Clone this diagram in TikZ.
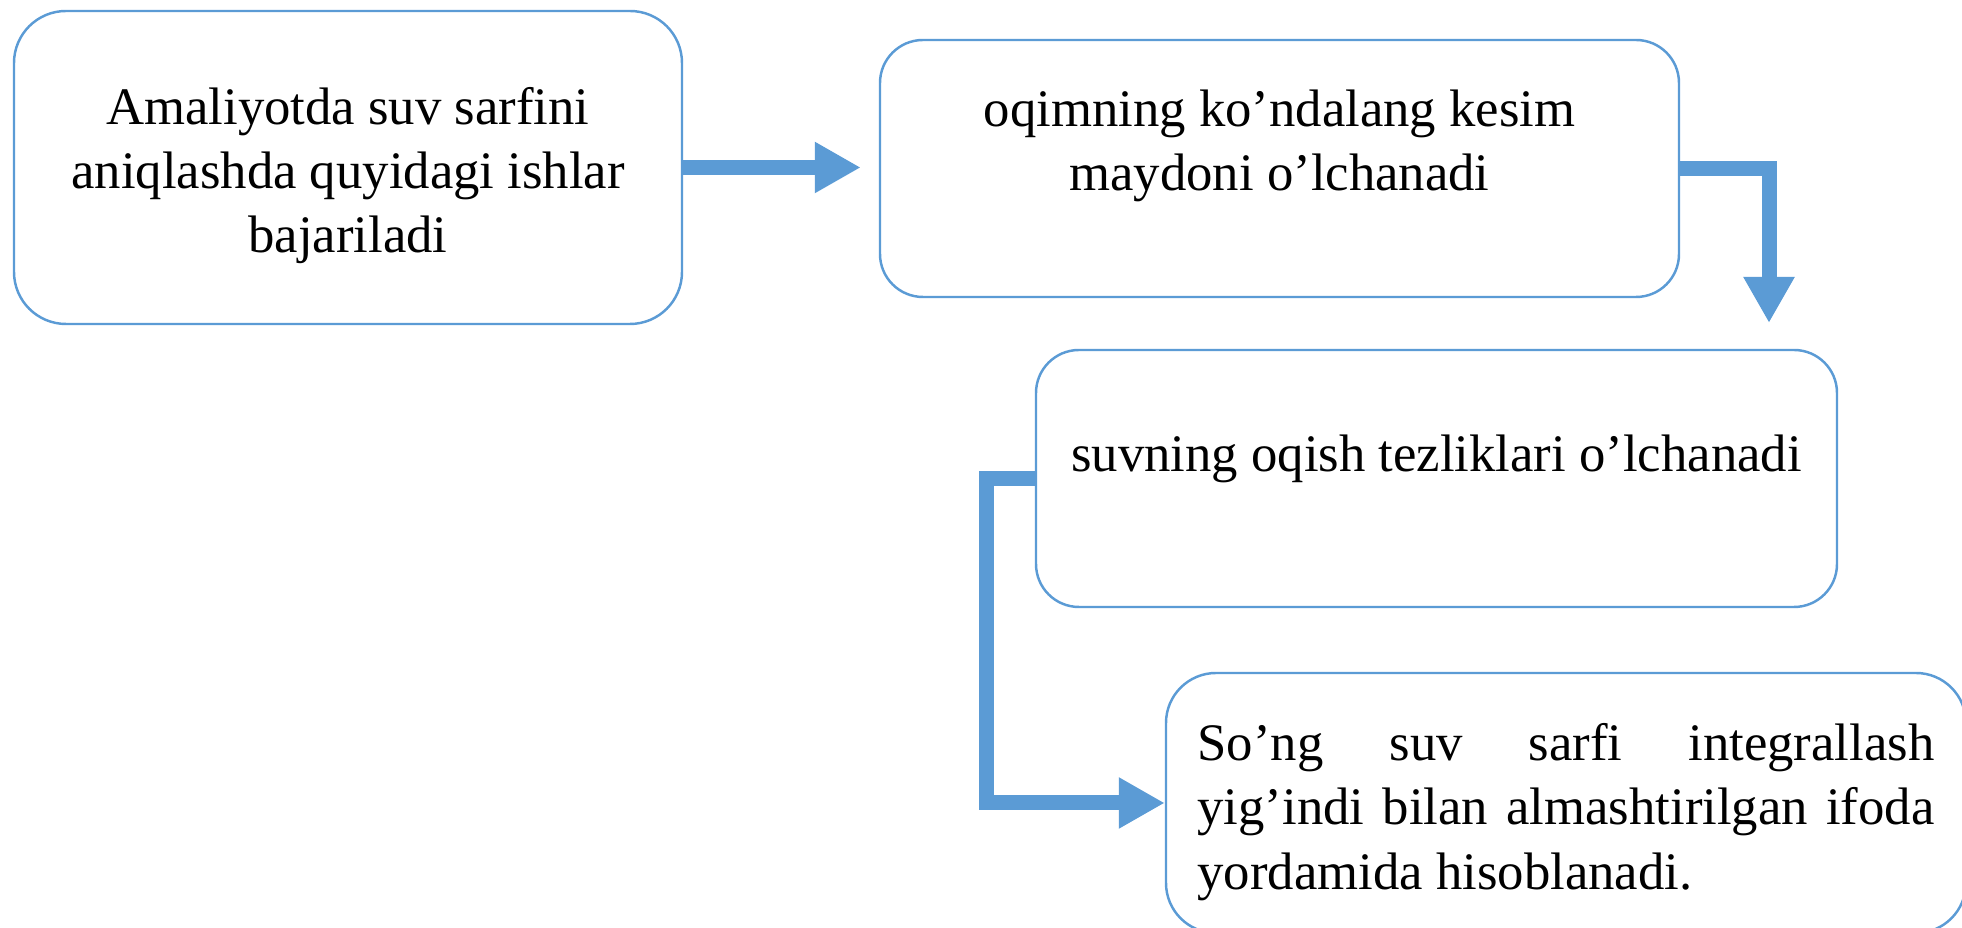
\documentclass[tikz,border=0pt]{standalone}
\usepackage{fontspec}
\setmainfont{Liberation Serif}
\usetikzlibrary{arrows.meta,positioning}
\definecolor{flowblue}{HTML}{5B9BD5}

\begin{document}
\begin{tikzpicture}[
		box/.style={draw=flowblue, line width=0.7pt, fill=white, rectangle,
			rounded corners=0.43cm, inner sep=0pt},
		txt/.style={inner sep=0pt, font=\fontsize{15}{18.3}\selectfont},
		flow/.style={draw=flowblue, line width=0.15cm, line join=miter,
			-{Triangle[length=0.46cm, width=0.48cm]}}
	]
	\useasboundingbox (0,0) rectangle (19.62,-9.28);
	% boxes
	\node [box, rounded corners=0.52cm, minimum width=6.68cm, minimum height=3.13cm] (b1) at (3.48,-1.675) {};
	\node [box, minimum width=7.99cm, minimum height=2.57cm] (b2) at (12.795,-1.685) {};
	\node [box, minimum width=8.01cm, minimum height=2.57cm] (b3) at (14.365,-4.785) {};
	\node [box, rounded corners=0.5cm, minimum width=8cm, minimum height=2.6cm] (b4) at (15.66,-8.03) {};
	% texts
	\node [txt, align=center] (t1) at ([yshift=-0.08cm]b1.center)
		{Amaliyotda suv sarfini\\aniqlashda quyidagi ishlar\\bajariladi};
	\node [txt, align=center, below=0.505cm of b2.north] (t2)
		{oqimning ko’ndalang kesim\\maydoni o’lchanadi};
	\node [txt, below=0.85cm of b3.north] (t3) {suvning oqish tezliklari o’lchanadi};
	\node [txt, text width=7.37cm, align=justify, below=0.51cm of b4.north] (t4)
		{So’ng suv sarfi integrallash\linebreak yig’indi bilan almashtirilgan ifoda\linebreak yordamida hisoblanadi.};
	% arrows
	\coordinate (c2) at (17.69,-3.23);
	\draw [flow, shorten >=0.18cm] (b1.east) -- (b1.east -| b2.west);
	\draw [flow] (b2.east) -| (c2);
	\draw [flow] (b3.west) -- ++(-0.48,0) |- (b4.west);
\end{tikzpicture}
\end{document}
